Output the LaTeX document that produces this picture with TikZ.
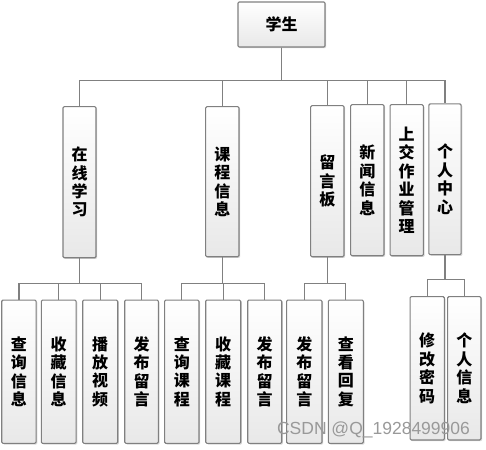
\documentclass[tikz,border=0pt]{standalone}
\usepackage{fontspec}
\setmainfont{Noto Sans CJK SC}
\newfontfamily\wmfont{Liberation Sans}
\usetikzlibrary{shadows}
\begin{document}
\begin{tikzpicture}[x=1pt,y=-1pt,
  box/.style={draw=black!50, line width=1.1pt, rounded corners=1.2pt,
    top color=white, bottom color=black!9, inner sep=0pt, align=center,
    font=\fontsize{16}{18.4}\selectfont\bfseries,
    drop shadow={shadow xshift=1.2pt, shadow yshift=-1.2pt, fill=black!25, opacity=0.6}},
  link/.style={draw=black!50, line width=1.2pt}]
\useasboundingbox[fill=white] (0,0) rectangle (486,449);
% top
\node[box, minimum width=87pt, minimum height=45pt] (s) at (281.5,24.5) {学生};
% middle row
\node[box, minimum width=33pt, minimum height=151pt] (m1) at (79.5,182.2) {在\\线\\学\\习};
\node[box, minimum width=33.3pt, minimum height=150pt] (m2) at (222.3,181.7) {课\\程\\信\\息};
\node[box, minimum width=33.3pt, minimum height=151pt] (m3) at (327.3,181.2) {留\\言\\板};
\node[box, minimum width=33.3pt, minimum height=151pt] (m4) at (367.3,180.2) {新\\闻\\信\\息};
\node[box, minimum width=33.3pt, minimum height=151pt] (m5) at (406.7,180.2) {上\\交\\作\\业\\管\\理};
\node[box, minimum width=32.3pt, minimum height=150.7pt] (m6) at (445,179.3) {个\\人\\中\\心};
% bottom row
\node[box, minimum width=34.3pt, minimum height=143.3pt] (b1) at (18.9,371.7) {查\\询\\信\\息};
\node[box, minimum width=34.7pt, minimum height=143.3pt] (b2) at (58.7,371.7) {收\\藏\\信\\息};
\node[box, minimum width=35pt, minimum height=143.3pt] (b3) at (100.2,371.7) {播\\放\\视\\频};
\node[box, minimum width=33.6pt, minimum height=143.3pt] (b4) at (141.5,371.7) {发\\布\\留\\言};
\node[box, minimum width=34.3pt, minimum height=143.3pt] (b5) at (181.8,371.7) {查\\询\\课\\程};
\node[box, minimum width=35pt, minimum height=143.3pt] (b6) at (223.2,371.7) {收\\藏\\课\\程};
\node[box, minimum width=34pt, minimum height=143.3pt] (b7) at (264.7,371.7) {发\\布\\留\\言};
\node[box, minimum width=35.3pt, minimum height=143.3pt] (b8) at (304.3,371.7) {发\\布\\留\\言};
\node[box, minimum width=35pt, minimum height=143.3pt] (b9) at (345.8,371.7) {查\\看\\回\\复};
\node[box, minimum width=34.3pt, minimum height=143.3pt] (b10) at (427.2,368.3) {修\\改\\密\\码};
\node[box, minimum width=33.3pt, minimum height=143.3pt] (b11) at (464.3,368.3) {个\\人\\信\\息};
% connectors
\foreach \c in {m1,m2,m3,m4,m5,m6}
  \draw[link] (s.south) -- ++(0,33) -| (\c.north);
\foreach \c in {b1,b2,b3,b4}
  \draw[link] (m1.south) -- ++(0,25) -| (\c.north);
\foreach \c in {b5,b6,b7}
  \draw[link] (m2.south) -- ++(0,26) -| (\c.north);
\foreach \c in {b8,b9}
  \draw[link] (m3.south) -- ++(0,26) -| (\c.north);
\foreach \c in {b10,b11}
  \draw[link] (m6.south) -- ++(0,24.3) -| (\c.north);
% watermark
\node[text=black!40, font=\wmfont\fontsize{17.5}{20}\selectfont, inner sep=0pt] (wm) at (373.5,430) {CSDN @Q\_1928499906};
\end{tikzpicture}
\end{document}
